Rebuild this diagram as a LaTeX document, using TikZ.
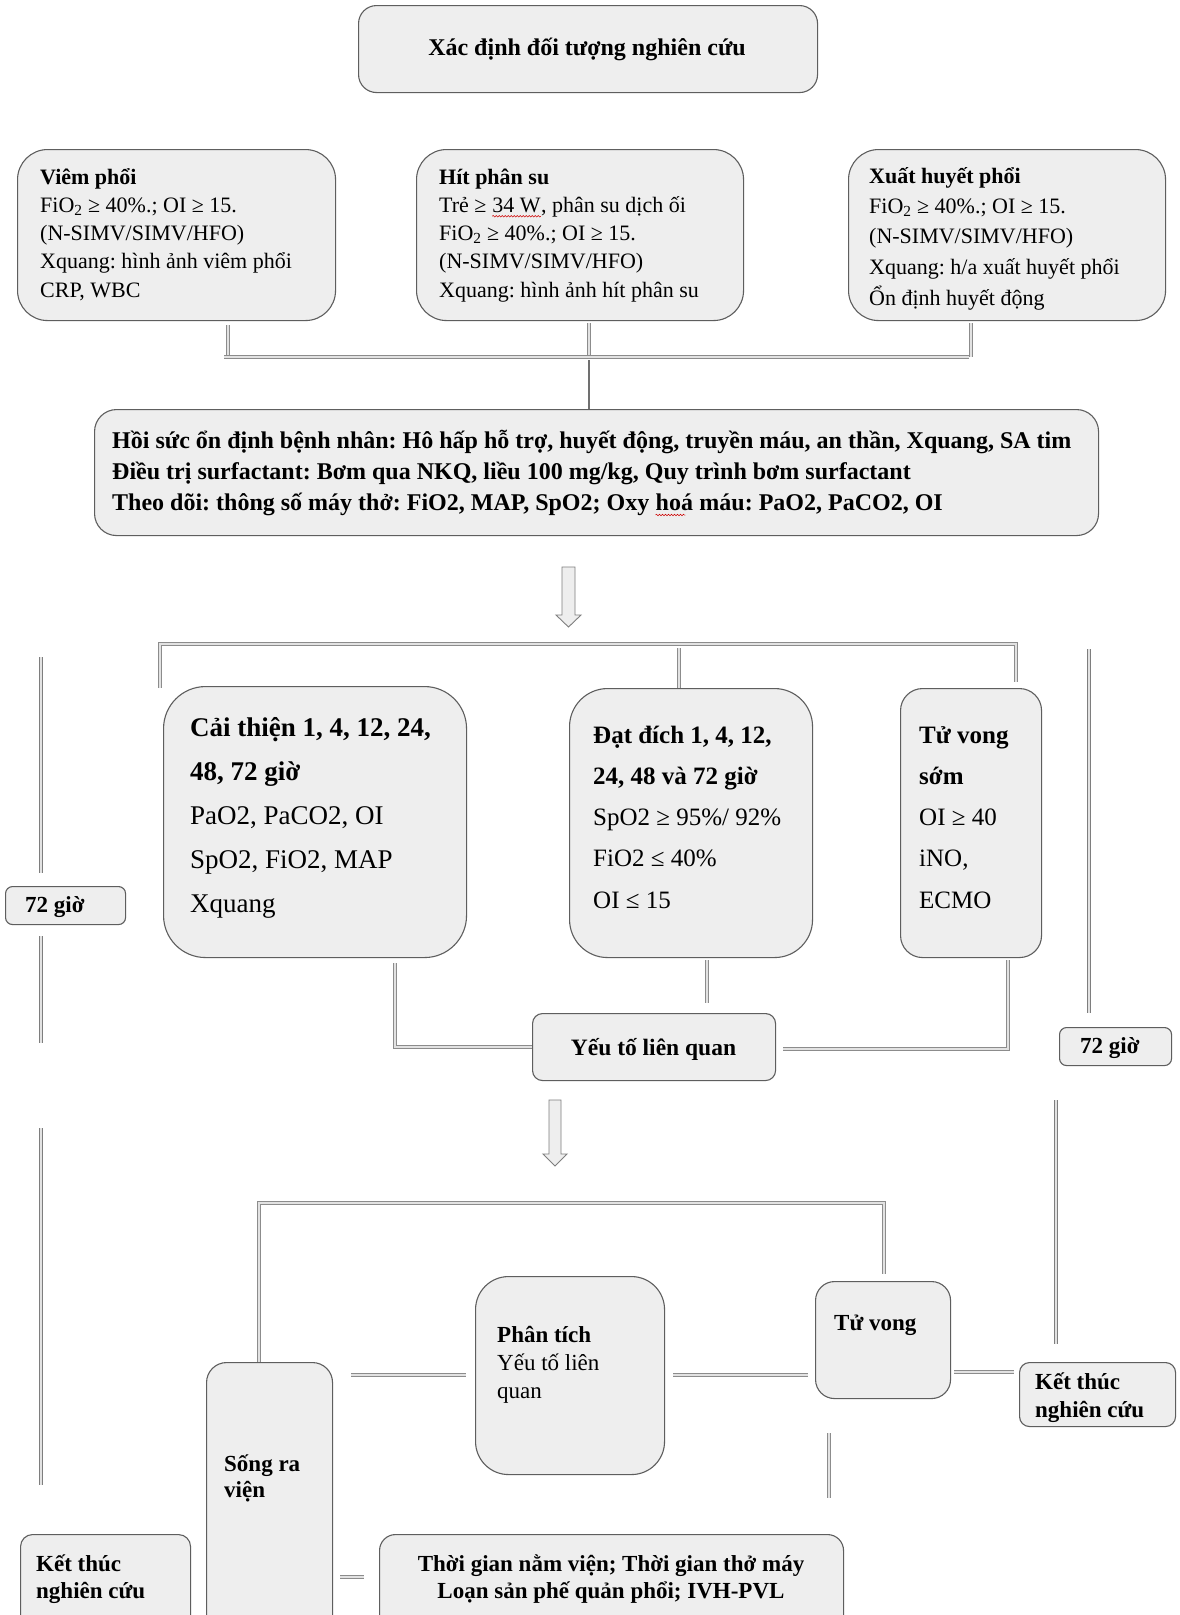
\documentclass[tikz,border=0pt]{standalone}
\usepackage{fontspec}
\setmainfont{Liberation Serif}
\usetikzlibrary{decorations.pathmorphing}
\frenchspacing
\definecolor{boxfill}{HTML}{EEEEEE}
\definecolor{boxline}{HTML}{5E5E5E}
\definecolor{conline}{HTML}{8C8C8C}
\definecolor{confill}{HTML}{E2E2E2}
\tikzset{
  bx/.style={draw=boxline, fill=boxfill, line width=1.1pt, inner sep=0pt, anchor=north west},
  txt/.style={inner sep=0pt, anchor=base west, text=black, execute at begin node=\frenchspacing},
  ctxt/.style={inner sep=0pt, anchor=base, text=black, execute at begin node=\frenchspacing},
  con/.style={draw=conline, double=confill, double distance=2.8pt, line width=0.9pt},
  conthin/.style={draw=conline!90!black, double=confill, double distance=1.8pt, line width=0.85pt},
  single/.style={draw=conline!80!black, line width=1.6pt},
  blockarrow/.style={draw=conline!90!black, fill=boxfill, line width=0.9pt, line join=miter},
  squiggle/.style={draw=red!80!black, line width=0.5pt, decorate, decoration={snake, amplitude=0.8pt, segment length=3pt}},
}
\newcommand{\bxat}[6]{\node[bx, rounded corners=#6pt, minimum width={(#4-#2)*1pt}, minimum height={(#5-#3)*1pt}] (#1) at (#2,#3) {};}
\newcommand{\fs}[1]{\fontsize{#1}{#1}\selectfont}
\begin{document}
\begin{tikzpicture}[x=1pt,y=-1pt]
\useasboundingbox (0,0) rectangle (1180,1615);
\clip (0,0) rectangle (1180,1615);
\fill[white] (0,0) rectangle (1180,1615);

% ---------- boxes ----------
\bxat{top}{358}{5}{817}{92}{18}
\bxat{vp}{17}{149}{335}{320}{30}
\bxat{hps}{416}{149}{743}{320}{30}
\bxat{xhp}{848}{149}{1165}{320}{30}
\bxat{big}{94}{409}{1098}{535}{22}
\bxat{ct}{163}{686}{466}{957}{42}
\bxat{dd}{569}{688}{812}{957}{38}
\bxat{tvs}{900}{688}{1041}{957}{22}
\bxat{gL}{5}{886}{125}{924}{7}
\bxat{gR}{1059}{1027}{1171}{1065}{7}
\bxat{yt}{532}{1013}{775}{1080}{10}
\bxat{pt}{475}{1276}{664}{1474}{33}
\bxat{tv}{815}{1281}{950}{1398}{19}
\bxat{ktR}{1019}{1362}{1175}{1426}{10}
\bxat{srv}{206}{1362}{332}{1660}{20}
\bxat{ktL}{20}{1534}{190}{1660}{12}
\bxat{tg}{379}{1534}{843}{1660}{16}

% ---------- texts ----------
\node[ctxt, font=\fs{24}\bfseries] (top-t) at (587,55) {Xác định đối tượng nghiên cứu};

\node[txt, font=\fs{22}\bfseries] (vp-0) at (40,184) {Viêm phổi};
\node[txt, font=\fs{22}] (vp-1) at (40,212.25) {FiO\textsubscript{2} ≥ 40\%.; OI ≥ 15.};
\node[txt, font=\fs{22}] (vp-2) at (40,240.5) {(N-SIMV/SIMV/HFO)};
\node[txt, font=\fs{22}] (vp-3) at (40,268.75) {Xquang: hình ảnh viêm phổi};
\node[txt, font=\fs{22}] (vp-4) at (40,297) {CRP, WBC};

\node[txt, font=\fs{22}\bfseries] (hps-0) at (439,184) {Hít phân su};
\node[txt, font=\fs{22}] (hps-1a) at (439,212.25) {Trẻ ≥};
\node[txt, font=\fs{22}] (hps-1b) at ([xshift=5.5pt]hps-1a.base east) {34 W};
\node[txt, font=\fs{22}] (hps-1c) at (hps-1b.base east) {, phân su dịch ối};
\node[txt, font=\fs{22}] (hps-2) at (439,240.5) {FiO\textsubscript{2} ≥ 40\%.; OI ≥ 15.};
\node[txt, font=\fs{22}] (hps-3) at (439,268.75) {(N-SIMV/SIMV/HFO)};
\node[txt, font=\fs{22}] (hps-4) at (439,297) {Xquang: hình ảnh hít phân su};
\draw[squiggle] ([yshift=-4pt]hps-1b.base west) -- ([yshift=-4pt]hps-1b.base east);

\node[txt, font=\fs{22}\bfseries] (xhp-0) at (869,183) {Xuất huyết phổi};
\node[txt, font=\fs{22}] (xhp-1) at (869,213) {FiO\textsubscript{2} ≥ 40\%.; OI ≥ 15.};
\node[txt, font=\fs{22}] (xhp-2) at (869,243) {(N-SIMV/SIMV/HFO)};
\node[txt, font=\fs{22}] (xhp-3) at (869,274) {Xquang: h/a xuất huyết phổi};
\node[txt, font=\fs{22}] (xhp-4) at (869,305) {Ổn định huyết động};

\node[txt, font=\fs{24}\bfseries] (big-0) at (112,448) {Hồi sức ổn định bệnh nhân: Hô hấp hỗ trợ, huyết động, truyền máu, an thần, Xquang, SA tim};
\node[txt, font=\fs{24}\bfseries] (big-1) at (112,479) {Điều trị surfactant: Bơm qua NKQ, liều 100 mg/kg, Quy trình bơm surfactant};
\node[txt, font=\fs{24}\bfseries] (big-2a) at (112,510) {Theo dõi: thông số máy thở: FiO2, MAP, SpO2; Oxy};
\node[txt, font=\fs{24}\bfseries] (big-2b) at ([xshift=6pt]big-2a.base east) {hoá};
\node[txt, font=\fs{24}\bfseries] (big-2c) at ([xshift=6pt]big-2b.base east) {máu: PaO2, PaCO2, OI};
\draw[squiggle] ([yshift=-5pt]big-2b.base west) -- ([yshift=-5pt,xshift=-8pt]big-2b.base east);

\node[txt, font=\fs{27}\bfseries] (ct-0) at (190,736) {Cải thiện 1, 4, 12, 24,};
\node[txt, font=\fs{27}\bfseries] (ct-1) at (190,780) {48, 72 giờ};
\node[txt, font=\fs{27}] (ct-2) at (190,824) {PaO2, PaCO2, OI};
\node[txt, font=\fs{27}] (ct-3) at (190,868) {SpO2, FiO2, MAP};
\node[txt, font=\fs{27}] (ct-4) at (190,912) {Xquang};

\node[txt, font=\fs{25}\bfseries] (dd-0) at (593,743) {Đạt đích 1, 4, 12,};
\node[txt, font=\fs{25}\bfseries] (dd-1) at (593,784.3) {24, 48 và 72 giờ};
\node[txt, font=\fs{25}] (dd-2) at (593,825.6) {SpO2 ≥ 95\%/ 92\%};
\node[txt, font=\fs{25}] (dd-3) at (593,866.9) {FiO2 ≤ 40\%};
\node[txt, font=\fs{25}] (dd-4) at (593,908.2) {OI ≤ 15};

\node[txt, font=\fs{25}\bfseries] (tvs-0) at (919,743) {Tử vong};
\node[txt, font=\fs{25}\bfseries] (tvs-1) at (919,784.3) {sớm};
\node[txt, font=\fs{25}] (tvs-2) at (919,825.6) {OI ≥ 40};
\node[txt, font=\fs{25}] (tvs-3) at (919,866.9) {iNO,};
\node[txt, font=\fs{25}] (tvs-4) at (919,908.2) {ECMO};

\node[txt, font=\fs{23}\bfseries] (gL-t) at (25,912) {72 giờ};
\node[txt, font=\fs{23}\bfseries] (gR-t) at (1080,1053) {72 giờ};
\node[ctxt, font=\fs{23.5}\bfseries] (yt-t) at (653.5,1055) {Yếu tố liên quan};

\node[txt, font=\fs{23}\bfseries] (pt-0) at (497,1342) {Phân tích};
\node[txt, font=\fs{23}] (pt-1) at (497,1370) {Yếu tố liên};
\node[txt, font=\fs{23}] (pt-2) at (497,1398) {quan};

\node[txt, font=\fs{23}\bfseries] (tv-t) at (834,1330) {Tử vong};
\node[txt, font=\fs{23}\bfseries] (ktR-0) at (1035,1389) {Kết thúc};
\node[txt, font=\fs{23}\bfseries] (ktR-1) at (1035,1417) {nghiên cứu};
\node[txt, font=\fs{23}\bfseries] (srv-0) at (224,1471) {Sống ra};
\node[txt, font=\fs{23}\bfseries] (srv-1) at (224,1497) {viện};
\node[txt, font=\fs{23}\bfseries] (ktL-0) at (36,1571) {Kết thúc};
\node[txt, font=\fs{23}\bfseries] (ktL-1) at (36,1598) {nghiên cứu};
\node[ctxt, font=\fs{23}\bfseries] (tg-0) at (611,1571) {Thời gian nằm viện; Thời gian thở máy};
\node[ctxt, font=\fs{23}\bfseries] (tg-1) at (611,1598) {Loạn sản phế quản phổi; IVH-PVL};

% ---------- connector coordinates ----------
\coordinate (s1a) at (228,325);  \coordinate (s1b) at (228,357);
\coordinate (s2a) at (589,323);  \coordinate (s2b) at (589,357);
\coordinate (s3a) at (971,323);  \coordinate (s3b) at (971,357);
\coordinate (barL) at (224,357); \coordinate (barR) at (969,357);
\coordinate (lnA) at (589,360);
\coordinate (arr1) at (568.5,567);
\coordinate (brL) at (160,688); \coordinate (brLc) at (160,644);
\coordinate (brRc) at (1016,644); \coordinate (brR) at (1016,682);
\coordinate (brMa) at (679,648); \coordinate (brMb) at (679,688);
\coordinate (lv1a) at (41,657); \coordinate (lv1b) at (41,873);
\coordinate (lv2a) at (41,936); \coordinate (lv2b) at (41,1043);
\coordinate (rv1a) at (1089,649); \coordinate (rv1b) at (1089,1013);
\coordinate (ctA) at (395,963); \coordinate (ctB) at (395,1047); \coordinate (ctC) at (532,1047);
\coordinate (ddA) at (707,960); \coordinate (ddB) at (707,1003);
\coordinate (tvsA) at (1008,960); \coordinate (tvsB) at (1008,1049); \coordinate (tvsC) at (783,1049);
\coordinate (arr2) at (555,1100);
\coordinate (bbL) at (259,1362); \coordinate (bbLc) at (259,1203);
\coordinate (bbRc) at (884,1203); \coordinate (bbR) at (884,1274);
\coordinate (lv3a) at (41,1128); \coordinate (lv3b) at (41,1485);
\coordinate (h1a) at (351,1375); \coordinate (h1b) at (466,1375);
\coordinate (h2a) at (673,1375); \coordinate (h2b) at (808,1375);
\coordinate (h3a) at (954,1372); \coordinate (h3b) at (1014,1372);
\coordinate (rv2a) at (1056,1100); \coordinate (rv2b) at (1056,1344);
\coordinate (tvdA) at (829,1433); \coordinate (tvdB) at (829,1498);
\coordinate (h4a) at (340,1577); \coordinate (h4b) at (364,1577);

% ---------- connectors ----------
\draw[con] (s1a) -- (s1b);
\draw[con] (s2a) -- (s2b);
\draw[con] (s3a) -- (s3b);
\draw[con] (barL) -- (barR);
\draw[single] (lnA) -- (big.north -| lnA);

\draw[blockarrow] ([xshift=-6.5pt]arr1) -- ++(0,48) -- ++(-6,0) -- ++(12.5,12) -- ++(12.5,-12) -- ++(-6,0) -- ++(0,-48) -- cycle;

\draw[con] (brL) -- (brLc) -- (brRc) -- (brR);
\draw[con] (brMa) -- (brMb);
\draw[conthin] (lv1a) -- (lv1b);
\draw[conthin] (lv2a) -- (lv2b);
\draw[conthin] (rv1a) -- (rv1b);
\draw[con] (ctA) -- (ctB) -- (ctC);
\draw[con] (ddA) -- (ddB);
\draw[con] (tvsA) -- (tvsB) -- (tvsC);

\draw[blockarrow] ([xshift=-6pt]arr2) -- ++(0,54) -- ++(-6,0) -- ++(12,12) -- ++(12,-12) -- ++(-6,0) -- ++(0,-54) -- cycle;

\draw[con] (bbL) -- (bbLc) -- (bbRc) -- (bbR);
\draw[conthin] (lv3a) -- (lv3b);
\draw[con] (h1a) -- (h1b);
\draw[con] (h2a) -- (h2b);
\draw[con] (h3a) -- (h3b);
\draw[conthin] (rv2a) -- (rv2b);
\draw[con] (tvdA) -- (tvdB);
\draw[con] (h4a) -- (h4b);
\end{tikzpicture}
\end{document}
